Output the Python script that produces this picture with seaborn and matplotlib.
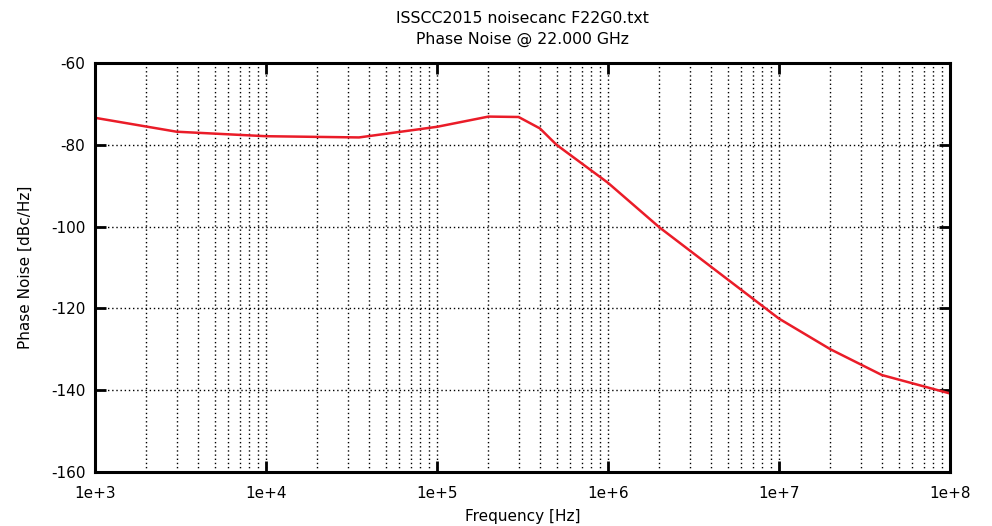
import numpy as np
import pandas as pd
import matplotlib
matplotlib.use("Agg")
import matplotlib.pyplot as plt
from matplotlib.ticker import LogLocator, NullFormatter
import seaborn as sns

# Messpunkte
freq_hz = [1e3, 3e3, 1e4, 3.5e4, 1e5, 2e5, 3e5, 4e5, 5e5, 1e6, 2e6, 1e7, 2e7, 4e7, 1e8]
phase_noise = [-73.4, -76.8, -77.9, -78.2, -75.6, -73.1, -73.2, -76.0, -80.0,
               -89.3, -100.2, -122.5, -130.0, -136.3, -140.8]

x_ticks = [1e3, 1e4, 1e5, 1e6, 1e7, 1e8]
x_labels = ["1e+3", "1e+4", "1e+5", "1e+6", "1e+7", "1e+8"]
y_ticks = [-160, -140, -120, -100, -80, -60]

sns.set_style("white")
plt.rcParams["font.family"] = ["DejaVu Sans"]
plt.rcParams["axes.unicode_minus"] = False
plt.rcParams["text.color"] = "black"
plt.rcParams["axes.labelcolor"] = "black"
plt.rcParams["xtick.color"] = "black"
plt.rcParams["ytick.color"] = "black"

df = pd.DataFrame({"freq": freq_hz, "pn": phase_noise})

fig = plt.figure(figsize=(9.92, 5.26), dpi=100)
ax = fig.add_axes([95 / 992, 1 - 472 / 526, 855 / 992, 409 / 526])

sns.lineplot(data=df, x="freq", y="pn", ax=ax, color="#ea1c28", linewidth=1.8)

ax.set_xscale("log")
ax.set_xlim(1e3, 1e8)
ax.set_ylim(-160, -60)
ax.set_xticks(x_ticks)
ax.set_xticklabels(x_labels)
ax.set_yticks(y_ticks)
ax.xaxis.set_minor_locator(LogLocator(base=10, subs=np.arange(2, 10)))
ax.xaxis.set_minor_formatter(NullFormatter())

# Gitter im gnuplot-Stil
ax.grid(True, which="major", axis="both", color="black", linestyle=(0, (1, 2)), linewidth=1.0)
ax.grid(True, which="minor", axis="x", color="black", linestyle=(0, (1, 2)), linewidth=1.0)
ax.set_axisbelow(True)

for s in ax.spines.values():
    s.set_linewidth(2.2)
    s.set_color("black")

ax.tick_params(which="major", direction="in", length=8, width=2,
               bottom=True, left=True, top=True, right=True,
               labelsize=11, pad=7, colors="black")
ax.tick_params(axis="x", which="major", pad=10)
ax.tick_params(which="minor", length=0)

ax.set_xlabel("Frequency [Hz]", fontsize=11, labelpad=6)
ax.set_ylabel("Phase Noise [dBc/Hz]", fontsize=11, labelpad=13)
ax.set_title("ISSCC2015 noisecanc F22G0.txt\nPhase Noise @ 22.000 GHz", fontsize=11.3, pad=14,
             linespacing=1.5)

fig.savefig("out.png", dpi=100)
